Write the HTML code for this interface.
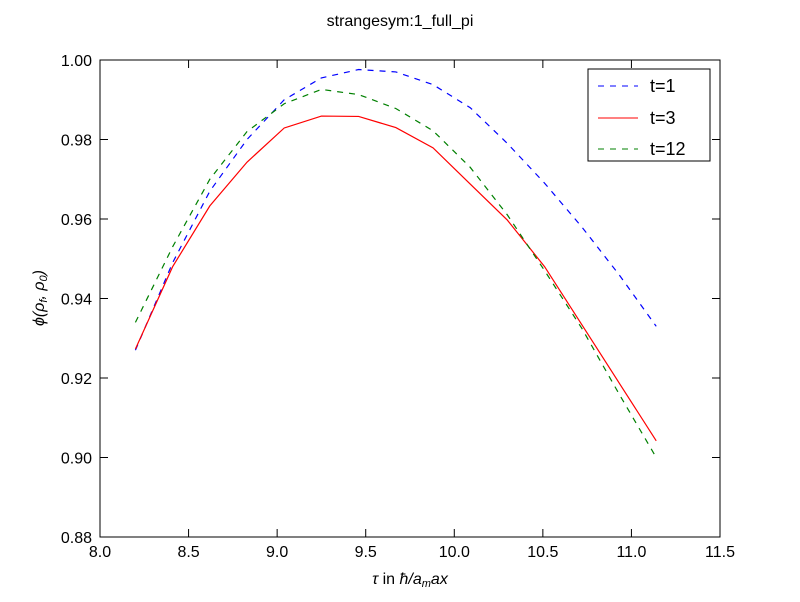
<!DOCTYPE html>
<html><head><meta charset="utf-8"><style>
body{margin:0;background:#fff}
text{font-family:"Liberation Sans",sans-serif}
</style></head><body>
<svg id="chart" width="800" height="597" xmlns="http://www.w3.org/2000/svg">
<rect width="800" height="597" fill="#fff"/>
<text x="400" y="26" text-anchor="middle" font-size="16">strangesym:1_full_pi</text>
<g id="marks"></g>
<rect x="100" y="60" width="620" height="477" fill="none" stroke="#000"/>
<g id="axes"></g>
<text x="410" y="584" text-anchor="middle" font-size="16" font-style="italic" font-family="Liberation Serif">τ <tspan font-style="normal" font-family="Liberation Sans">in</tspan> ħ/a<tspan font-size="11" dy="3">m</tspan><tspan dy="-3">ax</tspan></text>
<text transform="translate(44,298) rotate(-90)" text-anchor="middle" font-size="16" font-style="italic" font-family="Liberation Serif">ϕ(ρ<tspan font-size="11" dy="3">f</tspan><tspan dy="-3">, ρ</tspan><tspan font-size="11" dy="3">0</tspan><tspan dy="-3">)</tspan></text>
<g>
<rect x="588" y="69" width="122" height="92" fill="#fff" stroke="#000"/>
<line x1="598" y1="86" x2="638" y2="86" stroke="#0000ff" stroke-dasharray="6,6"/>
<text x="650" y="92" font-size="18">t=1</text>
<line x1="598" y1="118" x2="638" y2="118" stroke="#ff0000"/>
<text x="650" y="124" font-size="18">t=3</text>
<line x1="598" y1="149" x2="638" y2="149" stroke="#008000" stroke-dasharray="6,6"/>
<text x="650" y="155" font-size="18">t=12</text>
</g>
</svg>
<script>
const xs=[8.2,8.41,8.62,8.83,9.04,9.25,9.46,9.67,9.88,10.09,10.30,10.51,10.72,10.93,11.14];
const t1=[0.927,0.949,0.967,0.980,0.990,0.9955,0.9976,0.997,0.9938,0.988,0.979,0.969,0.958,0.946,0.933];
const t3=[0.9273,0.948,0.9633,0.9743,0.9829,0.9859,0.9858,0.983,0.9779,0.9688,0.9597,0.948,0.9334,0.9188,0.9042];
const t12=[0.934,0.953,0.970,0.982,0.989,0.9926,0.9913,0.9878,0.9822,0.973,0.961,0.947,0.9325,0.916,0.900];
const xTicks=[8.0,8.5,9.0,9.5,10.0,10.5,11.0,11.5];
const yTicks=[0.88,0.90,0.92,0.94,0.96,0.98,1.00];
const X=v=>100+(v-8)/3.5*620, Y=v=>537-(v-0.88)/0.12*477;
const NS="http://www.w3.org/2000/svg";
const marks=document.getElementById('marks'), axes=document.getElementById('axes');
function mk(tag,attrs,parent){const e=document.createElementNS(NS,tag);for(const k in attrs)e.setAttribute(k,attrs[k]);parent.appendChild(e);return e;}
[[t1,'#0000ff','6,6','series-t1'],[t3,'#ff0000','','series-t3'],[t12,'#008000','6,6','series-t12']].forEach(([d,c,da,n])=>{
 const p=mk('polyline',{points:xs.map((x,i)=>X(x)+','+Y(d[i])).join(' '),fill:'none',stroke:c,'stroke-width':1.2,'stroke-dasharray':da},marks);
 
 
});
xTicks.forEach(v=>{const x=X(v);
 mk('line',{x1:x,y1:537,x2:x,y2:529,stroke:'#000'},axes);mk('line',{x1:x,y1:60,x2:x,y2:68,stroke:'#000'},axes);
 const t=mk('text',{x:x,y:557,'text-anchor':'middle','font-size':16},axes);t.textContent=v.toFixed(1);
 
 
});
yTicks.forEach(v=>{const y=Y(v);
 mk('line',{x1:100,y1:y,x2:108,y2:y,stroke:'#000'},axes);mk('line',{x1:720,y1:y,x2:712,y2:y,stroke:'#000'},axes);
 const t=mk('text',{x:92,y:y+6,'text-anchor':'end','font-size':16},axes);t.textContent=v.toFixed(2);
 
 
});
</script>
</body></html>
